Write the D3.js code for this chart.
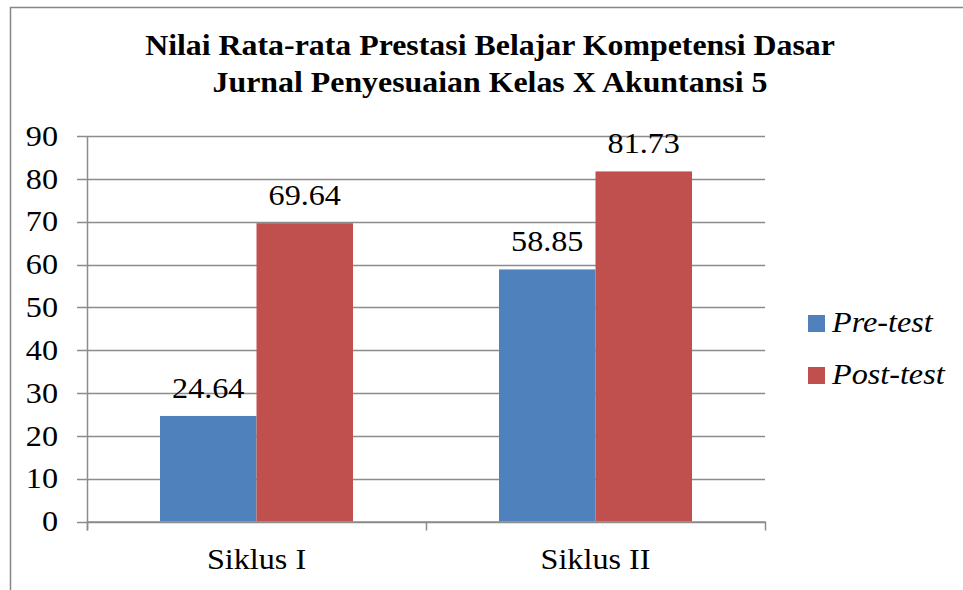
<!DOCTYPE html>
<html>
<head>
<meta charset="utf-8">
<script src="https://cdn.jsdelivr.net/npm/d3@7"></script>
<style>
  body { margin: 0; background: #fff; }
  text { font-family: "Liberation Serif", "Times New Roman", serif; }
</style>
</head>
<body>
<div id="chart"></div>
<script>
// data
const categories = ['Siklus I', 'Siklus II'];
const seriesNames = ['Pre-test', 'Post-test'];
const preTest = [24.64, 58.85];
const postTest = [69.64, 81.73];
const yTicks = [0, 10, 20, 30, 40, 50, 60, 70, 80, 90];
const titleLines = ['Nilai Rata-rata Prestasi Belajar Kompetensi Dasar', 'Jurnal Penyesuaian Kelas X Akuntansi 5'];

const colors = ['#4F81BD', '#C0504D'];
const width = 963, height = 590;
const plot = { left: 87, right: 765, top: 136, bottom: 521.5 };
const sx = 1.11; // the original picture is a bit stretched sideways

const svg = d3.select('#chart').append('svg')
  .attr('width', width)
  .attr('height', height);

// widen text around its own anchor point
function stretch(sel) {
  sel.each(function () {
    const t = d3.select(this);
    const x = +t.attr('x') || 0, y = +t.attr('y') || 0;
    t.attr('x', 0).attr('y', 0)
      .attr('transform', `translate(${x},${y}) scale(${sx},1)`);
  });
}

// outer chart border (right/bottom cut off in the picture)
svg.append('rect')
  .attr('x', 10.5).attr('y', 7.5)
  .attr('width', 980).attr('height', 620)
  .attr('fill', 'none').attr('stroke', '#868686').attr('stroke-width', 1.5);

// title
svg.append('text')
  .attr('text-anchor', 'middle')
  .attr('font-weight', 'bold')
  .attr('font-size', 29)
  .attr('transform', `translate(490,0) scale(${sx * 0.99},1)`)
  .selectAll('tspan')
  .data(titleLines)
  .enter().append('tspan')
  .attr('x', 0)
  .attr('y', (d, i) => 55 + i * 37)
  .text(d => d);

const x0 = d3.scaleBand().domain(categories).range([plot.left, plot.right]).paddingInner(0).paddingOuter(0);
const y = d3.scaleLinear().domain([0, 90]).range([plot.bottom, plot.top]);
const groupPad = 73;
const x1 = d3.scaleBand().domain(seriesNames).range([groupPad, x0.bandwidth() - groupPad]);

// gridlines
svg.append('g')
  .selectAll('line')
  .data(yTicks)
  .enter().append('line')
  .attr('x1', plot.left - 10).attr('x2', plot.right)
  .attr('y1', d => Math.round(y(d)) + 0.5).attr('y2', d => Math.round(y(d)) + 0.5)
  .attr('stroke', '#8c8c8c').attr('stroke-width', 1.5);

// y axis
const yAxis = svg.append('g')
  .attr('transform', `translate(${plot.left},0)`)
  .call(d3.axisLeft(y).tickValues(yTicks).tickSize(0).tickPadding(29));
yAxis.select('.domain').remove();
yAxis.selectAll('text')
  .attr('font-size', 29)
  .attr('fill', '#000')
  .style('font-family', '"Liberation Serif", serif')
  .call(stretch);
svg.append('line')
  .attr('x1', plot.left + 0.5).attr('x2', plot.left + 0.5)
  .attr('y1', plot.top).attr('y2', plot.bottom + 9)
  .attr('stroke', '#8c8c8c').attr('stroke-width', 1.5);

// bars
const rows = categories.map((c, i) => ({ cat: c, values: [preTest[i], postTest[i]] }));
const groups = svg.append('g')
  .selectAll('g')
  .data(rows)
  .enter().append('g')
  .attr('transform', d => `translate(${x0(d.cat)},0)`);

groups.selectAll('rect')
  .data(d => d.values.map((v, j) => ({ name: seriesNames[j], value: v, j })))
  .enter().append('rect')
  .attr('x', d => x1(d.name))
  .attr('width', x1.bandwidth())
  .attr('y', d => y(d.value))
  .attr('height', d => y(0) - y(d.value))
  .attr('fill', d => colors[d.j]);

// value labels
groups.selectAll('text')
  .data(d => d.values.map((v, j) => ({ name: seriesNames[j], value: v })))
  .enter().append('text')
  .attr('x', d => x1(d.name) + x1.bandwidth() / 2)
  .attr('y', d => y(d.value) - 18)
  .attr('text-anchor', 'middle')
  .attr('font-size', 29)
  .text(d => d3.format('.2f')(d.value))
  .call(stretch);

// x axis
const xAxis = svg.append('g')
  .attr('transform', `translate(0,${plot.bottom})`)
  .call(d3.axisBottom(x0).tickSize(0).tickPadding(27));
xAxis.select('.domain').remove();
xAxis.selectAll('text')
  .attr('font-size', 29)
  .attr('fill', '#000')
  .style('font-family', '"Liberation Serif", serif')
  .call(stretch);
svg.append('line')
  .attr('x1', plot.left).attr('x2', plot.right)
  .attr('y1', plot.bottom + 0.5).attr('y2', plot.bottom + 0.5)
  .attr('stroke', '#8c8c8c').attr('stroke-width', 1.5);
svg.append('g')
  .selectAll('line')
  .data(d3.range(categories.length + 1))
  .enter().append('line')
  .attr('x1', i => Math.round(plot.left + i * x0.bandwidth()) + 0.5)
  .attr('x2', i => Math.round(plot.left + i * x0.bandwidth()) + 0.5)
  .attr('y1', plot.bottom).attr('y2', plot.bottom + 9)
  .attr('stroke', '#8c8c8c').attr('stroke-width', 1.5);

// legend
const legend = svg.append('g')
  .selectAll('g')
  .data(seriesNames)
  .enter().append('g')
  .attr('transform', (d, i) => `translate(808,${315 + i * 52})`);
legend.append('rect')
  .attr('width', 17).attr('height', 17)
  .attr('fill', (d, i) => colors[i]);
legend.append('text')
  .attr('x', 24).attr('y', 17)
  .attr('font-size', 29)
  .attr('font-style', 'italic')
  .text(d => d)
  .call(stretch);
</script>
</body>
</html>
